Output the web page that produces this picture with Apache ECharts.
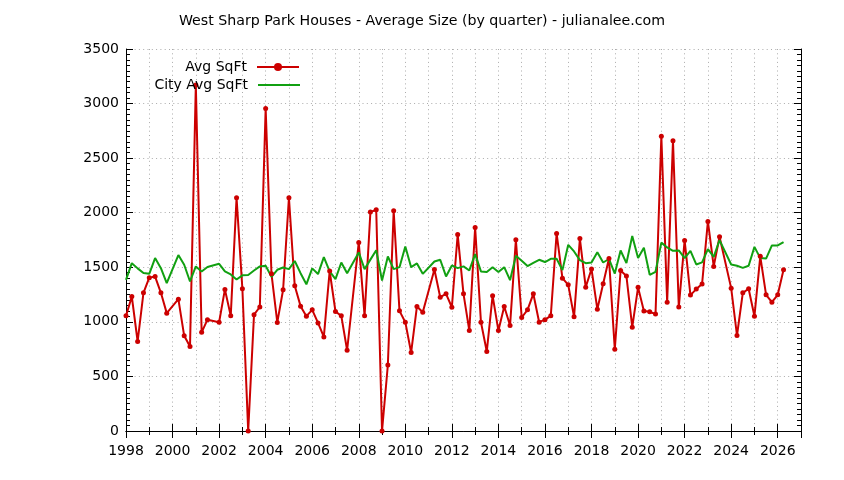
<!DOCTYPE html>
<html>
<head>
<meta charset="utf-8">
<script src="https://cdn.jsdelivr.net/npm/echarts@6/dist/echarts.min.js"></script>
<style>html,body{margin:0;padding:0;background:#fff;}#c{width:844px;height:480px;}</style>
</head>
<body>
<div id="c"></div>
<script>
// Quarter positions (decimal year) and values
var avgQuarters = [1998.0,1998.25,1998.5,1998.75,1999.0,1999.25,1999.5,1999.75,2000.25,2000.5,2000.75,2001.0,2001.25,2001.5,2002.0,2002.25,2002.5,2002.75,2003.0,2003.25,2003.5,2003.75,2004.0,2004.25,2004.5,2004.75,2005.0,2005.25,2005.5,2005.75,2006.0,2006.25,2006.5,2006.75,2007.0,2007.25,2007.5,2008.0,2008.25,2008.5,2008.75,2009.0,2009.25,2009.5,2009.75,2010.0,2010.25,2010.5,2010.75,2011.25,2011.5,2011.75,2012.0,2012.25,2012.5,2012.75,2013.0,2013.25,2013.5,2013.75,2014.0,2014.25,2014.5,2014.75,2015.0,2015.25,2015.5,2015.75,2016.0,2016.25,2016.5,2016.75,2017.0,2017.25,2017.5,2017.75,2018.0,2018.25,2018.5,2018.75,2019.0,2019.25,2019.5,2019.75,2020.0,2020.25,2020.5,2020.75,2021.0,2021.25,2021.5,2021.75,2022.0,2022.25,2022.5,2022.75,2023.0,2023.25,2023.5,2024.0,2024.25,2024.5,2024.75,2025.0,2025.25,2025.5,2025.75,2026.0,2026.25];
var avgSqft = [1055,1232,820,1266,1405,1415,1266,1080,1208,872,774,3170,904,1020,996,1297,1055,2137,1303,0,1066,1136,2955,1440,995,1294,2137,1330,1144,1052,1110,990,862,1466,1095,1055,740,1728,1055,2006,2027,0,605,2018,1101,997,719,1141,1088,1480,1226,1257,1134,1800,1257,920,1865,997,728,1240,920,1141,966,1752,1040,1110,1257,997,1020,1055,1810,1400,1339,1046,1763,1318,1484,1116,1349,1580,749,1471,1420,951,1316,1100,1092,1072,2700,1180,2660,1135,1746,1245,1300,1347,1920,1508,1780,1309,875,1266,1303,1052,1600,1248,1180,1248,1477];
var cityQuarters = avgQuarters;
var citySqft = [1385,1538,1490,1447,1440,1584,1492,1355,1612,1523,1370,1508,1462,1502,1532,1462,1434,1388,1426,1430,1471,1508,1514,1413,1477,1498,1483,1558,1446,1344,1490,1438,1593,1462,1391,1544,1446,1636,1483,1570,1657,1379,1599,1483,1501,1691,1501,1535,1440,1553,1569,1416,1517,1492,1508,1471,1621,1462,1456,1501,1456,1501,1382,1605,1560,1511,1540,1569,1548,1578,1578,1474,1706,1645,1566,1538,1544,1637,1544,1576,1443,1654,1538,1786,1585,1680,1431,1459,1726,1682,1651,1654,1584,1651,1526,1545,1667,1596,1749,1526,1514,1495,1514,1687,1584,1580,1700,1700,1731];
var xMin = 1998, xMax = 2027, xStep = 2, yMin = 0, yMax = 3500, yStep = 500;
var titleText = 'West Sharp Park Houses - Average Size (by quarter) - julianalee.com';
var seriesNames = ['Avg SqFt', 'City Avg SqFt'];

function pairs(xs, ys){ var o=[]; for (var i=0;i<xs.length;i++) o.push([xs[i], ys[i]]); return o; }

var FONT = 'DejaVu Sans';
var RED = '#cc0000', GREEN = '#11a011';
var gridStyle = {color:'#ababab', type:[1,3.3], width:1};
var axLine = {show:true, lineStyle:{color:'#000', width:1}};
var chart = echarts.init(document.getElementById('c'), null, {renderer:'canvas'});
chart.setOption({
  animation:false,
  backgroundColor:'#fff',
  title:{text:titleText, left:'center', top:9, textStyle:{fontFamily:FONT, fontSize:14.2, fontWeight:'normal', color:'#000'}},
  legend:[
    {data:[seriesNames[0]], right:544, top:60, align:'right', orient:'vertical', itemWidth:42, itemHeight:10, padding:0,
     textStyle:{fontFamily:FONT, fontSize:14, color:'#000', padding:[0,5,0,0]}},
    {data:[{name:seriesNames[1], icon:'rect'}], right:544, top:78, align:'right', orient:'vertical', itemWidth:42, itemHeight:2, padding:0,
     textStyle:{fontFamily:FONT, fontSize:14, color:'#000', padding:[0,5,0,0]}}
  ],
  grid:{left:126, right:43, top:49, bottom:49, containLabel:false},
  xAxis:[
    {type:'value', min:xMin, max:xMax, interval:xStep, position:'bottom',
     axisLine:axLine,
     axisTick:{show:true, inside:true, length:7, lineStyle:{color:'#000'}},
     minorTick:{show:true, splitNumber:2, length:4, lineStyle:{color:'#000'}},
     axisLabel:{fontFamily:FONT, fontSize:14, color:'#000', margin:13,
       formatter:function(v){ return (v < xMax) ? String(v) : ''; }},
     splitLine:{show:true, lineStyle:gridStyle},
     minorSplitLine:{show:true, lineStyle:gridStyle}},
    {type:'value', min:xMin, max:xMax, interval:xStep, position:'top',
     axisLine:axLine,
     axisTick:{show:true, inside:true, length:7, lineStyle:{color:'#000'}},
     minorTick:{show:true, splitNumber:2, length:4, lineStyle:{color:'#000'}},
     axisLabel:{show:false}, splitLine:{show:false}}
  ],
  yAxis:[
    {type:'value', min:yMin, max:yMax, interval:yStep, position:'left',
     axisLine:axLine,
     axisTick:{show:true, inside:true, length:7, lineStyle:{color:'#000'}},
     minorTick:{show:true, splitNumber:10, length:4, lineStyle:{color:'#000'}},
     axisLabel:{fontFamily:FONT, fontSize:14, color:'#000', margin:7,
       formatter:function(v){ return String(v); }},
     splitLine:{show:true, lineStyle:gridStyle}},
    {type:'value', min:yMin, max:yMax, interval:yStep, position:'right',
     axisLine:axLine,
     axisTick:{show:true, inside:true, length:7, lineStyle:{color:'#000'}},
     minorTick:{show:true, splitNumber:10, length:4, lineStyle:{color:'#000'}},
     axisLabel:{show:false}, splitLine:{show:false}}
  ],
  series:[
    {name:seriesNames[0], type:'line', xAxisIndex:0, yAxisIndex:0, data:pairs(avgQuarters, avgSqft),
     symbol:'circle', symbolSize:5, showAllSymbol:true,
     lineStyle:{color:RED, width:2}, itemStyle:{color:RED}},
    {name:seriesNames[1], type:'line', xAxisIndex:0, yAxisIndex:0, data:pairs(cityQuarters, citySqft),
     symbol:'none', showSymbol:false,
     lineStyle:{color:GREEN, width:2}, itemStyle:{color:GREEN}}
  ]
});
</script>
</body>
</html>
